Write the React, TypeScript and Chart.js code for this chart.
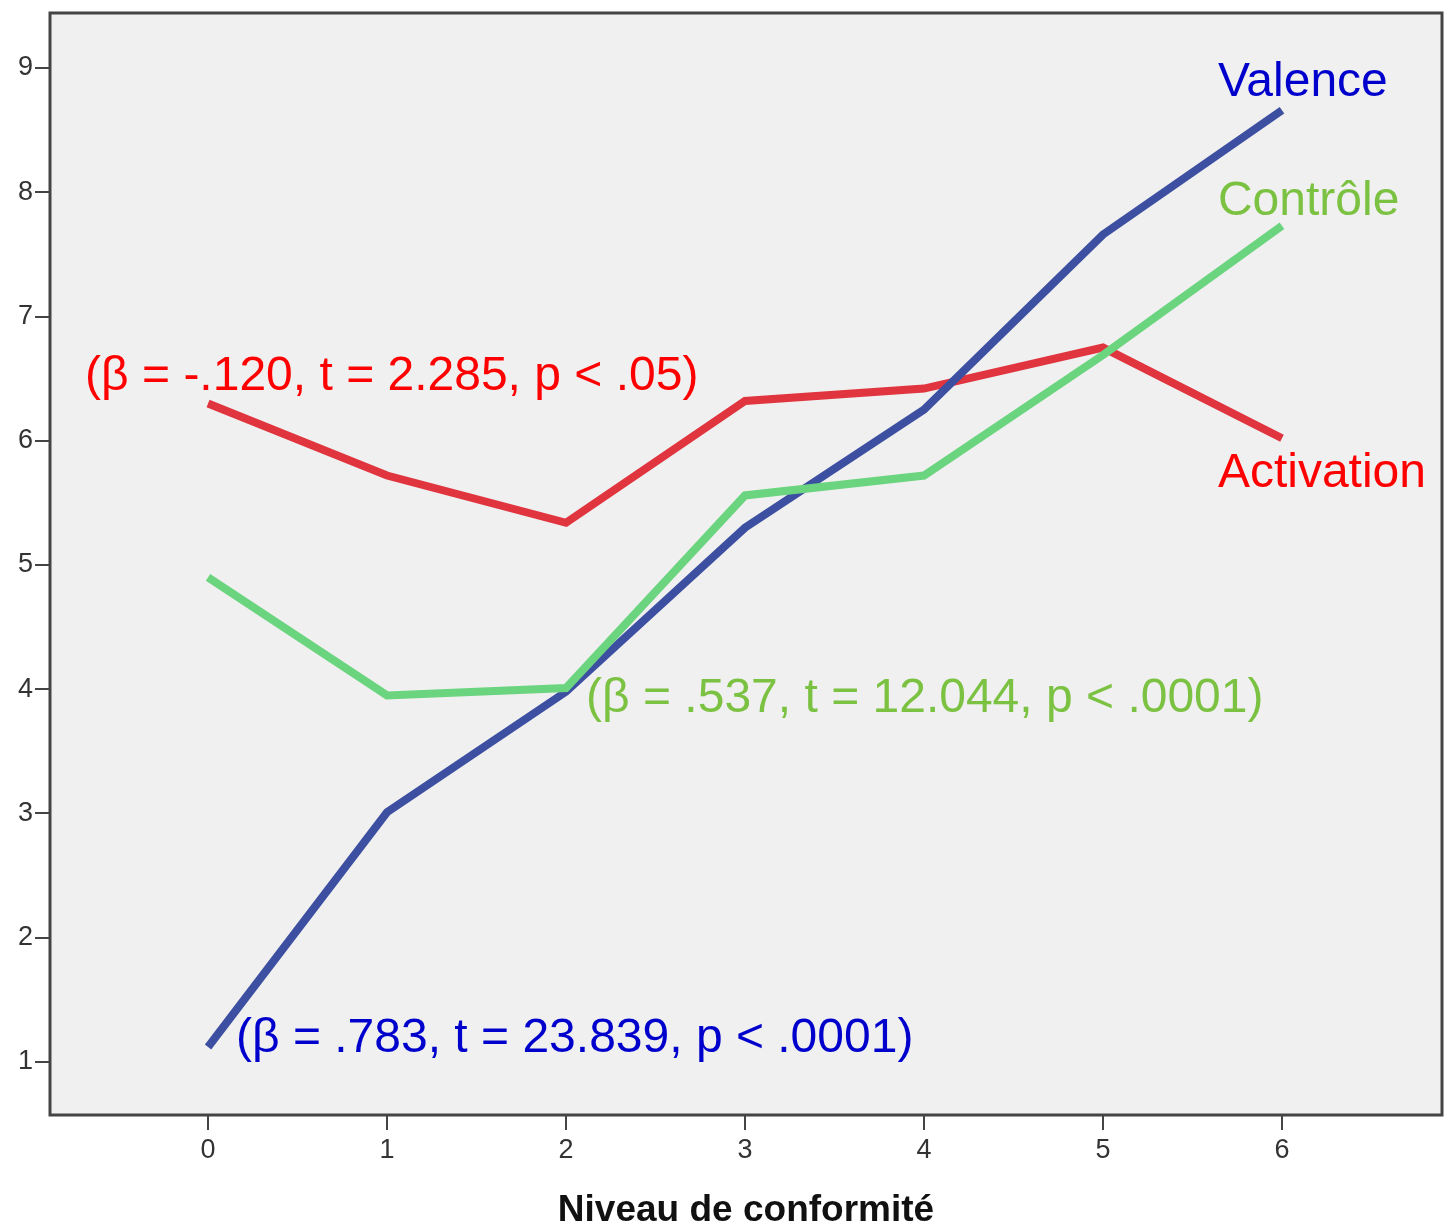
import React, { useEffect, useRef } from "react";
import { Chart, registerables } from "chart.js";

Chart.register(...registerables);

const categories = [0, 1, 2, 3, 4, 5, 6];
const valence = [1.12, 3.01, 3.98, 5.3, 6.25, 7.66, 8.66];
const controle = [4.9, 3.95, 4.01, 5.56, 5.72, 6.69, 7.73];
const activation = [6.3, 5.72, 5.34, 6.32, 6.42, 6.75, 6.02];
const yTicks = [1, 2, 3, 4, 5, 6, 7, 8, 9];
const xTicks = [0, 1, 2, 3, 4, 5, 6];
const xTitle = "Niveau de conformité";

const annotations = [
  { text: "Valence", x: 5.642, y: 8.775, color: "#0000cc" },
  { text: "Contrôle", x: 5.642, y: 7.817, color: "#7cc242" },
  { text: "Activation", x: 5.642, y: 5.628, color: "#ff0000" },
  { text: "(β = -.120, t = 2.285, p < .05)", x: -0.687, y: 6.41, color: "#ff0000" },
  { text: "(β = .537, t = 12.044, p < .0001)", x: 2.112, y: 3.817, color: "#7cc242" },
  { text: "(β = .783, t = 23.839, p < .0001)", x: 0.156, y: 1.08, color: "#0000cc" },
];

const pts = (vals: number[]) => categories.map((c, i) => ({ x: c, y: vals[i] }));

const bgPlugin = {
  id: "bgPlugin",
  beforeDatasetsDraw(chart: any) {
    const { ctx, chartArea: a } = chart;
    ctx.save();
    ctx.fillStyle = "#f0f0f0";
    ctx.fillRect(a.left, a.top, a.right - a.left, a.bottom - a.top);
    ctx.restore();
  },
  afterDraw(chart: any) {
    const { ctx, chartArea: a } = chart;
    ctx.save();
    ctx.strokeStyle = "#444444";
    ctx.lineWidth = 3;
    ctx.strokeRect(a.left, a.top, a.right - a.left, a.bottom - a.top);
    ctx.restore();
  },
};

const textPlugin = {
  id: "textPlugin",
  afterDatasetsDraw(chart: any) {
    const { ctx, scales } = chart;
    ctx.save();
    ctx.font = '48px "Liberation Sans", Arial, sans-serif';
    ctx.textAlign = "left";
    ctx.textBaseline = "alphabetic";
    for (const an of annotations) {
      ctx.fillStyle = an.color;
      ctx.fillText(an.text, scales.x.getPixelForValue(an.x), scales.y.getPixelForValue(an.y));
    }
    ctx.restore();
  },
};

export default function App() {
  const ref = useRef<HTMLCanvasElement>(null);
  useEffect(() => {
    document.body.style.margin = "0";
    const chart = new Chart(ref.current!, {
      type: "line",
      data: {
        datasets: [
          { label: "Contrôle", data: pts(controle), borderColor: "#6bd47f", borderWidth: 8, pointRadius: 0, tension: 0, fill: false },
          { label: "Valence", data: pts(valence), borderColor: "#3d4fa1", borderWidth: 8, pointRadius: 0, tension: 0, fill: false },
          { label: "Activation", data: pts(activation), borderColor: "#e0353f", borderWidth: 8, pointRadius: 0, tension: 0, fill: false },
        ],
      },
      options: {
        animation: false,
        responsive: false,
        events: [],
        layout: { padding: 0 },
        plugins: { legend: { display: false }, tooltip: { enabled: false } },
        scales: {
          x: {
            type: "linear",
            min: -0.883,
            max: 6.894,
            afterBuildTicks: (s: any) => { s.ticks = xTicks.map((v) => ({ value: v })); },
            afterFit: (s: any) => { s.height = 114; s.paddingLeft = 0; s.paddingRight = 14; },
            border: { display: false },
            grid: { drawOnChartArea: false, drawTicks: true, tickLength: 15, color: "#444444", lineWidth: 2 },
            ticks: { padding: 4, color: "#333333", font: { family: '"Liberation Sans", Arial, sans-serif', size: 27 }, maxRotation: 0, autoSkip: false },
            title: { display: true, text: xTitle, color: "#111111", font: { family: '"Liberation Sans", Arial, sans-serif', size: 37, weight: "bold" }, padding: { top: 0, bottom: -4 } },
          },
          y: {
            type: "linear",
            min: 0.573,
            max: 9.443,
            afterBuildTicks: (s: any) => { s.ticks = yTicks.map((v) => ({ value: v })); },
            afterFit: (s: any) => { s.width = 50; s.paddingTop = 13; s.paddingBottom = 0; },
            border: { display: false },
            grid: { drawOnChartArea: false, drawTicks: true, tickLength: 15, color: "#444444", lineWidth: 2 },
            ticks: { padding: 2, color: "#333333", font: { family: '"Liberation Sans", Arial, sans-serif', size: 27 } },
          },
        },
      },
      plugins: [bgPlugin, textPlugin],
    });
    return () => chart.destroy();
  }, []);
  return <canvas ref={ref} width={1456} height={1229} style={{ display: "block" }} />;
}
